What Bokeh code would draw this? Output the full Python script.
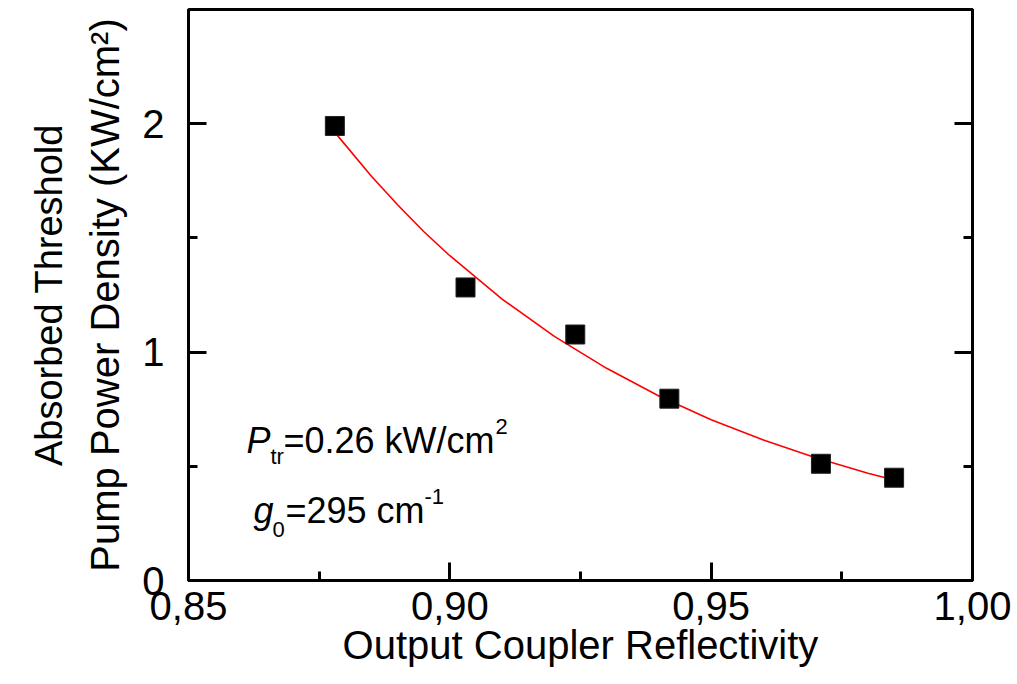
from bokeh.plotting import figure
from bokeh.models import Range1d, FixedTicker, LinearAxis, CustomJSTickFormatter, Label
from bokeh.embed import file_html
from bokeh.resources import INLINE

# measured data
reflectivity = [0.878, 0.903, 0.924, 0.942, 0.971, 0.985]
threshold = [1.99, 1.283, 1.077, 0.796, 0.511, 0.45]

# fitted curve
fit_reflectivity = [0.878, 0.885, 0.89, 0.895, 0.90, 0.91, 0.92, 0.93, 0.94, 0.95, 0.96, 0.97, 0.98, 0.985]
fit_threshold = [1.962, 1.770, 1.645, 1.528, 1.422, 1.232, 1.069, 0.929, 0.808, 0.704, 0.615, 0.537, 0.470, 0.44]

x_major = [0.85, 0.90, 0.95, 1.00]
x_minor = [0.875, 0.925, 0.975]
y_major = [0, 1, 2]
y_minor = [0.5, 1.5]

FONT = "Liberation Sans"
FS = "40px"
AFS = "36px"
X0, X1, Y0, Y1 = 0.85, 1.0, 0.0, 2.5
L, R, T, B = 188, 972, 9.5, 579.5

p = figure(width=1017, height=684, output_backend="svg", toolbar_location=None,
           x_range=Range1d(X0, X1), y_range=Range1d(Y0, Y1),
           min_border_left=L, min_border_right=1017 - R, min_border_top=9, min_border_bottom=104,
           background_fill_color="white", border_fill_color="white")
p.xgrid.visible = False
p.ygrid.visible = False
p.outline_line_color = "black"
p.outline_line_width = 3
p.outline_line_alpha = 1.0

xfmt = CustomJSTickFormatter(code="return tick.toFixed(2).replace('.', ',');")
yfmt = CustomJSTickFormatter(code="return tick.toFixed(0);")
empty = CustomJSTickFormatter(code="return '';")

def style(ax):
    ax.axis_line_width = 3
    ax.axis_line_color = "black"
    ax.major_tick_line_width = 3
    ax.minor_tick_line_width = 3
    ax.major_tick_line_color = "black"
    ax.minor_tick_line_color = "black"
    ax.major_tick_in = 18
    ax.major_tick_out = 0
    ax.minor_tick_in = 9
    ax.minor_tick_out = 0
    ax.major_label_text_font = FONT
    ax.major_label_text_font_size = FS
    ax.major_label_text_color = "black"
    ax.axis_label_text_font = FONT
    ax.axis_label_text_font_size = FS
    ax.axis_label_text_font_style = "normal"
    ax.axis_label_text_color = "black"

xax = p.xaxis[0]
xax.ticker = FixedTicker(ticks=x_major, minor_ticks=x_minor)
xax.formatter = xfmt
xax.axis_label = "Output Coupler Reflectivity"
style(xax)
xax.major_label_standoff = 11
xax.axis_label_standoff = 0

yax = p.yaxis[0]
yax.ticker = FixedTicker(ticks=y_major, minor_ticks=y_minor)
yax.formatter = yfmt
yax.axis_label = "Pump Power Density (KW/cm\u00b2)"
style(yax)
yax.major_label_standoff = 24
yax.axis_label_standoff = 12

ytitle2 = LinearAxis(axis_label="Absorbed Threshold", ticker=FixedTicker(ticks=[]), formatter=empty)
style(ytitle2)
ytitle2.axis_label_text_font_size = "38px"
ytitle2.axis_line_color = None
ytitle2.major_tick_line_color = None
ytitle2.minor_tick_line_color = None
ytitle2.axis_label_standoff = 11
p.add_layout(ytitle2, "left")

rax = LinearAxis(ticker=FixedTicker(ticks=y_major, minor_ticks=y_minor), formatter=empty)
style(rax)
rax.major_label_standoff = 0
p.add_layout(rax, "right")

p.line(fit_reflectivity, fit_threshold, line_color="#ff0000", line_width=1.6)
p.scatter(reflectivity, threshold, marker="square", size=19, fill_color="black", line_color="#222222", line_width=1)

def px_x(px):
    return X0 + (px - L) / (R - L) * (X1 - X0)

def px_y(py):
    return Y0 + (B - py) / (B - T) * (Y1 - Y0)

def lab(text, px, py, size, italic=False):
    p.add_layout(Label(x=px_x(px), y=px_y(py), text=text, text_font=FONT, text_font_size=size,
                       text_font_style="italic" if italic else "normal", text_color="black",
                       text_baseline="alphabetic", text_align="left"))

lab("P", 246, 440, AFS, True)
lab("tr", 270, 456, "22px")
lab("=0.26 kW/cm", 283, 440, AFS)
lab("2", 495, 426, "22px")
lab("g", 253, 510, AFS, True)
lab("0", 272, 529, "22px")
lab("=295 cm", 285, 510, AFS)
lab("-1", 424, 496, "22px")

open("out.html", "w").write(file_html(p, INLINE))
